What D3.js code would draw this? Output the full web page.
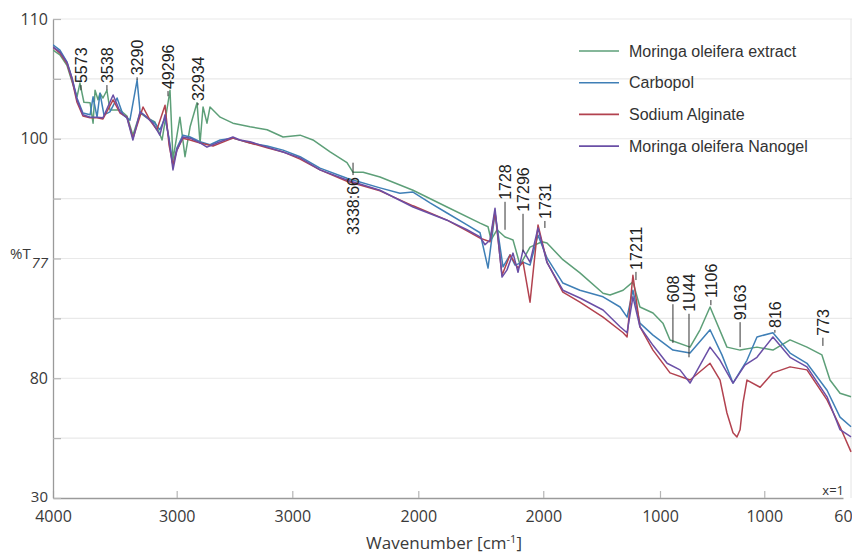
<!DOCTYPE html>
<html>
<head>
<meta charset="utf-8">
<script src="https://cdn.jsdelivr.net/npm/d3@7"></script>
<style>
  body { margin: 0; background: #fff; }
  svg { display: block; }
</style>
</head>
<body>
<div id="chart"></div>
<script>
// ---- data (wavenumber, %T) ----
var seriesNames = ['Moringa oleifera extract', 'Carbopol', 'Sodium Alginate', 'Moringa oleifera Nanogel'];

var extractData = [[4000,104.8],[3972,104.0],[3943,102.2],[3923,99.5],[3903,97.0],[3891,99.3],[3875,96.1],[3850,96.0],[3838,92.6],[3830,98.1],[3818,96.5],[3810,97.6],[3798,96.8],[3782,98.1],[3770,94.8],[3729,94.8],[3701,93.8],[3677,90.6],[3648,94.3],[3620,93.5],[3588,92.8],[3559,89.8],[3527,98.1],[3515,86.5],[3486,93.6],[3464,87.0],[3442,92.0],[3412,96.0],[3399,89.3],[3386,95.3],[3369,92.6],[3356,95.3],[3312,93.6],[3257,92.6],[3183,92.0],[3109,91.5],[3040,90.3],[2969,90.6],[2918,89.8],[2850,87.8],[2783,86.0],[2759,84.4],[2719,84.4],[2652,83.6],[2521,81.4],[2385,78.6],[2253,75.9],[2221,75.3],[2209,73.1],[2185,74.8],[2153,73.6],[2121,73.1],[2093,68.9],[2053,71.9],[2005,72.8],[1984,72.6],[1916,69.8],[1843,67.6],[1744,64.2],[1714,63.9],[1658,64.7],[1616,66.1],[1586,61.9],[1530,60.9],[1486,59.2],[1452,56.4],[1356,55.2],[1308,58.1],[1260,61.9],[1179,55.2],[1116,54.7],[1035,55.2],[956,54.7],[869,56.4],[783,55.2],[707,53.9],[666,49.7],[615,47.5],[559,46.9]];

var carbopolData = [[4000,105.7],[3972,104.8],[3943,102.8],[3923,100.1],[3903,96.8],[3879,94.3],[3850,94.0],[3838,97.0],[3822,93.6],[3810,97.6],[3794,94.0],[3770,94.5],[3741,96.8],[3717,94.0],[3689,93.1],[3660,99.8],[3648,94.5],[3620,93.6],[3588,92.6],[3568,91.5],[3547,93.5],[3531,90.1],[3515,85.6],[3499,88.5],[3473,90.6],[3442,90.3],[3399,89.5],[3356,89.0],[3312,89.8],[3257,90.1],[3183,89.3],[3109,88.8],[3040,88.1],[2969,87.0],[2890,85.1],[2783,83.4],[2652,81.8],[2573,80.9],[2521,81.1],[2453,79.3],[2385,77.6],[2305,75.6],[2253,74.3],[2221,68.4],[2193,77.6],[2161,68.6],[2133,70.6],[2113,68.9],[2081,69.4],[2053,68.9],[2021,73.9],[1984,70.1],[1916,65.9],[1843,64.7],[1744,63.6],[1671,61.9],[1641,60.2],[1616,64.7],[1586,59.2],[1530,57.2],[1438,54.7],[1356,54.2],[1260,58.1],[1203,53.9],[1150,49.2],[1083,53.0],[1035,56.9],[956,57.6],[869,54.2],[783,52.5],[681,48.0],[615,43.5],[559,41.9]];

var alginateData = [[4000,105.3],[3972,104.3],[3943,102.5],[3923,99.8],[3903,96.1],[3879,93.8],[3850,93.5],[3822,93.5],[3798,93.3],[3757,96.5],[3729,94.3],[3701,93.6],[3677,90.1],[3636,95.3],[3608,93.1],[3580,91.5],[3547,95.6],[3531,89.0],[3515,85.6],[3499,88.1],[3473,90.1],[3442,89.8],[3399,89.3],[3343,88.8],[3257,90.1],[3183,89.3],[3109,88.5],[3040,87.8],[2969,86.6],[2890,84.8],[2783,82.9],[2652,81.3],[2521,78.8],[2385,76.4],[2305,74.6],[2253,73.4],[2213,72.8],[2193,77.8],[2165,67.2],[2133,70.6],[2101,68.4],[2081,69.4],[2053,62.7],[2021,75.6],[1984,69.4],[1916,64.4],[1843,62.7],[1744,60.2],[1658,57.6],[1641,56.9],[1616,67.2],[1586,58.6],[1530,54.7],[1452,50.9],[1356,49.7],[1260,52.5],[1212,49.7],[1179,44.2],[1150,40.9],[1131,40.2],[1116,41.4],[1102,45.9],[1083,49.7],[1020,48.5],[956,50.9],[869,51.9],[783,51.4],[681,46.4],[615,41.9],[559,37.7]];

var nanogelData = [[4000,105.3],[3972,104.5],[3943,102.7],[3923,100.1],[3903,96.5],[3879,94.0],[3850,93.6],[3822,93.6],[3798,93.5],[3757,97.3],[3729,94.5],[3701,93.5],[3677,89.8],[3648,94.5],[3620,93.5],[3596,92.6],[3568,90.6],[3547,94.0],[3531,89.8],[3515,84.8],[3499,88.1],[3473,90.3],[3442,90.1],[3399,89.3],[3369,88.6],[3326,89.3],[3257,90.3],[3226,89.8],[3183,89.5],[3109,88.6],[3040,87.8],[2969,86.8],[2890,84.8],[2783,83.1],[2652,81.4],[2521,78.6],[2385,76.4],[2305,74.8],[2253,73.6],[2233,72.3],[2213,73.1],[2193,78.4],[2165,66.9],[2145,68.1],[2121,70.9],[2101,67.7],[2081,71.4],[2053,69.4],[2021,75.1],[1984,69.3],[1916,64.7],[1843,63.4],[1744,61.4],[1671,58.6],[1641,57.6],[1616,63.6],[1586,58.6],[1530,55.5],[1466,52.5],[1404,51.4],[1356,49.2],[1308,52.2],[1260,55.2],[1212,53.0],[1150,49.2],[1093,52.2],[1035,53.5],[956,56.9],[869,53.5],[783,51.9],[681,46.9],[615,41.4],[559,40.2]];

// peak labels: text, wavenumber, %T at text edge, %T at leader end
var peakLabels = [
  ['5573', 3887, 99.3, 98.1],
  ['3538', 3782, 99.3, 98.1],
  ['3290', 3660, 100.6, 99.8],
  ['49296', 3535, 98.3, 97.1],
  ['32934', 3408, 96.3, 95.6],
  ['3338:66', 2759, 83.6, 86.0],
  ['1728', 2153, 79.8, 74.8],
  ['17296', 2081, 77.8, 71.1],
  ['1731', 1993, 76.6, 75.1],
  ['17211', 1603, 68.1, 66.4],
  ['608', 1438, 62.7, 55.9],
  ['1U44', 1361, 61.1, 53.5],
  ['1106', 1256, 63.4, 62.2],
  ['9163', 1116, 59.7, 55.2],
  ['816', 946, 58.4, 57.6],
  ['773', 702, 57.1, 55.4]
];

var xTickValues = [4000, 3500, 3000, 2500, 2000, 1500, 1000, 600];
var xTickLabels = ['4000', '3000', '3000', '2000', '2000', '1000', '1000', '60'];
var yTickValues = [30, 40, 50, 60, 70, 80, 90, 100, 110];
var yTickLabels = ['30', '', '80', '', '77', '', '100', '', '110'];

// ---- layout / style ----
var props = {
  width: 799,
  height: 479,
  margin: { top: 19, right: 0, bottom: 55, left: 53 }
};
var colors = ['#5d9f78', '#3f7fb6', '#b2424f', '#6a4fa6'];
var tickFont = '"Open Sans", sans-serif';
var labelFont = '"Liberation Sans", Arial, sans-serif';

var svg = d3.select('#chart').append('svg')
  .attr('width', props.width + props.margin.left + props.margin.right)
  .attr('height', props.height + props.margin.top + props.margin.bottom);

var g = svg.append('g')
  .attr('transform', 'translate(' + props.margin.left + ',' + props.margin.top + ')');

// uneven tick spacing in the source figure -> piecewise linear scale
var xFrac = [0, 0.1548, 0.2995, 0.4572, 0.6136, 0.7597, 0.8902, 0.9887];
var x = d3.scaleLinear()
  .domain(xTickValues)
  .range(xFrac.map(function(f) { return f * props.width; }));

var y = d3.scaleLinear()
  .domain([30, 110])
  .range([props.height, 0]);

// grid
g.append('g').attr('class', 'grid')
  .selectAll('line').data(yTickValues.slice(1))
  .enter().append('line')
  .attr('x1', 0).attr('x2', props.width)
  .attr('y1', function(d) { return y(d); })
  .attr('y2', function(d) { return y(d); })
  .attr('stroke', '#e9e9e9')
  .attr('stroke-width', 1.2);

g.append('line')
  .attr('x1', props.width - 1).attr('x2', props.width - 1)
  .attr('y1', 0).attr('y2', props.height)
  .attr('stroke', '#e4e4e4');

// axes
var xAxis = d3.axisBottom(x)
  .tickValues(xTickValues)
  .tickFormat(function(d, i) { return xTickLabels[i]; })
  .tickSizeInner(-7)
  .tickSizeOuter(0)
  .tickPadding(13);

var yAxis = d3.axisLeft(y)
  .tickValues(yTickValues)
  .tickFormat(function(d, i) { return yTickLabels[i]; })
  .tickSizeInner(-8)
  .tickSizeOuter(0)
  .tickPadding(5);

var xg = g.append('g')
  .attr('transform', 'translate(0,' + props.height + ')')
  .call(xAxis);
xg.selectAll('.tick').filter(function(d) { return d === 600; }).select('line').remove();

var yg = g.append('g').call(yAxis);

[xg, yg].forEach(function(ax) {
  ax.select('.domain').attr('stroke', '#9a9a9a').attr('stroke-width', 1.3);
  ax.selectAll('.tick line').attr('stroke', '#b5b5b5').attr('stroke-width', 1.2);
  ax.selectAll('.tick text')
    .attr('fill', '#3a3a3a')
    .style('font-family', tickFont)
    .style('font-size', '16px');
});

yg.selectAll('.tick text').filter(function(d) { return d === 70; })
  .attr('dy', '0.62em')
  .style('font-size', '15px')
  .style('font-style', 'italic');

yg.selectAll('.tick text').filter(function(d) { return d === 30; })
  .attr('dy', '0.2em')
  .style('font-size', '15px');

svg.append('text')
  .attr('x', 10).attr('y', 259)
  .attr('fill', '#3a3a3a')
  .style('font-family', tickFont)
  .style('font-size', '15px')
  .text('%T');

var xTitle = svg.append('text')
  .attr('x', props.margin.left + 391).attr('y', 549)
  .attr('text-anchor', 'middle')
  .attr('fill', '#3a3a3a')
  .style('font-family', tickFont)
  .style('font-size', '17px');
xTitle.append('tspan').text('Wavenumber [cm');
xTitle.append('tspan').attr('dy', -6).style('font-size', '11px').text('-1');
xTitle.append('tspan').attr('dy', 6).text(']');

svg.append('text')
  .attr('x', 844).attr('y', 495)
  .attr('text-anchor', 'end')
  .attr('fill', '#333')
  .style('font-family', tickFont)
  .style('font-size', '13px')
  .text('x=1');

// spectra
g.append('clipPath').attr('id', 'plotClip')
  .append('rect').attr('width', props.width).attr('height', props.height);

var lineFunc = d3.line()
  .x(function(d) { return x(d[0]); })
  .y(function(d) { return y(d[1]); })
  .curve(d3.curveLinear);

var allSeries = [extractData, carbopolData, alginateData, nanogelData];

g.append('g').attr('clip-path', 'url(#plotClip)')
  .selectAll('path').data(allSeries)
  .enter().append('path')
  .attr('d', function(d) { return lineFunc(d); })
  .attr('fill', 'none')
  .attr('stroke', function(d, i) { return colors[i]; })
  .attr('stroke-width', 1.5)
  .attr('stroke-linejoin', 'round');

// peak labels
var peaks = g.append('g').attr('class', 'peaks')
  .selectAll('g').data(peakLabels)
  .enter().append('g');

peaks.append('line')
  .attr('x1', function(d) { return x(d[1]); })
  .attr('x2', function(d) { return x(d[1]); })
  .attr('y1', function(d) { return y(d[2]) + (d[3] < d[2] ? 2 : -2); })
  .attr('y2', function(d) { return y(d[3]); })
  .attr('stroke', '#333')
  .attr('stroke-width', 1);

peaks.append('text')
  .attr('transform', function(d) {
    return 'translate(' + x(d[1]) + ',' + y(d[2]) + ') rotate(-90)';
  })
  .attr('text-anchor', function(d) { return d[3] < d[2] ? 'start' : 'end'; })
  .attr('dy', '0.36em')
  .attr('fill', '#222')
  .style('font-family', labelFont)
  .style('font-size', '16px')
  .text(function(d) { return d[0]; });

// legend
var legend = svg.append('g')
  .attr('transform', 'translate(579,51)');

var items = legend.selectAll('g').data(seriesNames)
  .enter().append('g')
  .attr('transform', function(d, i) { return 'translate(0,' + (i * 31.7) + ')'; });

items.append('line')
  .attr('x1', 0).attr('x2', 40)
  .attr('stroke', function(d, i) { return colors[i]; })
  .attr('stroke-width', 1.6);

items.append('text')
  .attr('x', 50).attr('dy', '0.35em')
  .attr('fill', '#333')
  .style('font-family', labelFont)
  .style('font-size', '16px')
  .text(function(d) { return d; });
</script>
</body>
</html>
